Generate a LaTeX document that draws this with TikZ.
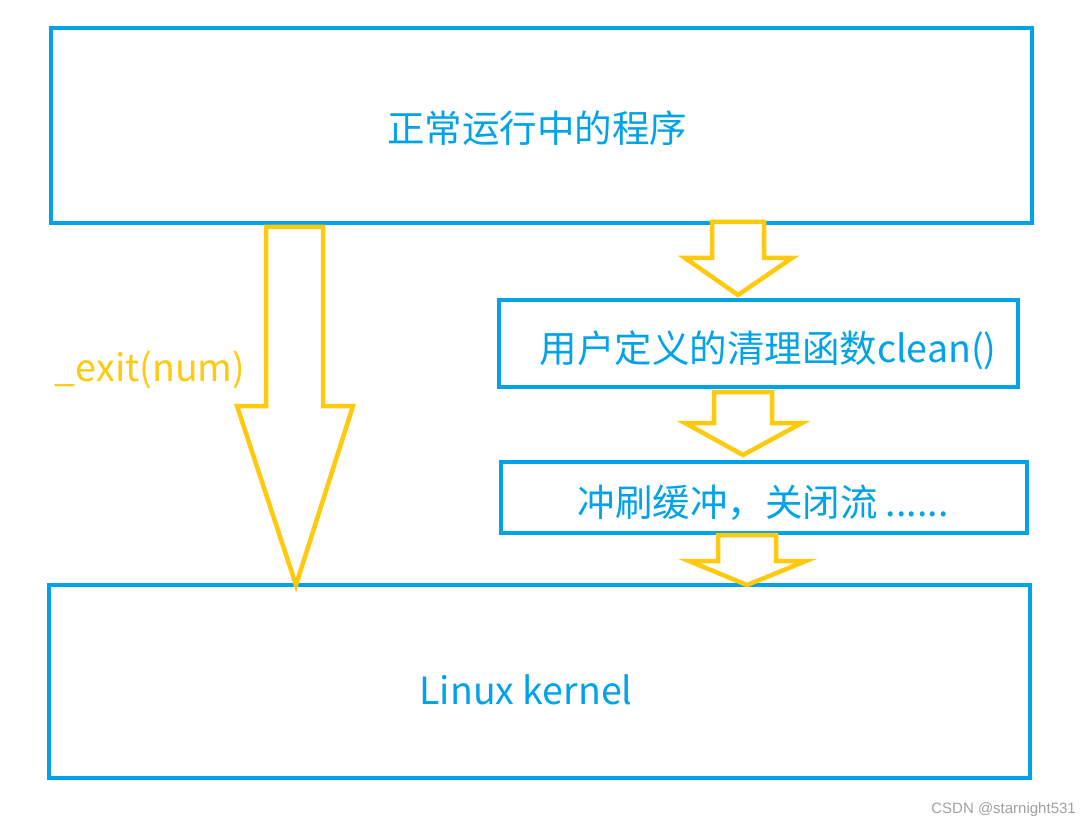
\documentclass[tikz,border=0pt]{standalone}
\usepackage{fontspec}
\setmainfont{Noto Sans CJK SC}
\newfontfamily\wmfont{Liberation Sans}
\definecolor{cblue}{HTML}{00A2E8}
\definecolor{cgold}{HTML}{FFC90E}
\definecolor{cgray}{HTML}{A0A0A0}
\begin{document}
\begin{tikzpicture}[x=1pt,y=-1pt,
  box/.style={draw=cblue,line width=4pt,fill=none,inner sep=0pt},
  btext/.style={text=cblue,font=\fontsize{37.5}{42}\selectfont,inner sep=0pt,anchor=center},
  yarrow/.style={draw=cgold,line width=4.5pt,line join=miter,fill=white},
  ytext/.style={text=cgold,font=\fontsize{37.5}{42}\selectfont,inner sep=0pt,anchor=center}]
\useasboundingbox (0,0) rectangle (1090,829);
% boxes
\node[box,minimum width=981pt,minimum height=195pt] (b1) at (541.5,125.5) {};
\node[box,minimum width=519pt,minimum height=87pt] (b2) at (758.5,343.5) {};
\node[box,minimum width=526pt,minimum height=71pt] (b3) at (764,497.5) {};
\node[box,minimum width=981pt,minimum height=193pt] (b4) at (539.5,681.5) {};
% labels
\node[btext] (t1) at (537,128) {正常运行中的程序};
\node[btext] (t2) at (768,350) {用户定义的清理函数clean()};
\node[btext] (t3) at (763,503) {冲刷缓冲，关闭流 ......};
\node[btext] (t4) at (526,690) {Linux kernel};
\node[ytext] (t5) at (150,370) {\_exit(num)};
\node[text=cgray,font=\wmfont\fontsize{15}{18}\selectfont,inner sep=0pt,anchor=east] (wm) at (1076,810) {CSDN @starnight531};
% block arrows
\draw[yarrow] (266,227) -- (323,227) -- (323,406) -- (353,406) -- (296,585) -- (237,406) -- (266,406) -- cycle;
\draw[yarrow] (712,222) -- (764,222) -- (764,258) -- (792,258) -- (738,295) -- (685,258) -- (712,258) -- cycle;
\draw[yarrow] (714,392) -- (772,392) -- (772,423) -- (802,423) -- (743,455) -- (685,423) -- (714,423) -- cycle;
\draw[yarrow] (718,535) -- (776,535) -- (776,561) -- (806,561) -- (747,585) -- (689,561) -- (718,561) -- cycle;
\end{tikzpicture}
\end{document}
